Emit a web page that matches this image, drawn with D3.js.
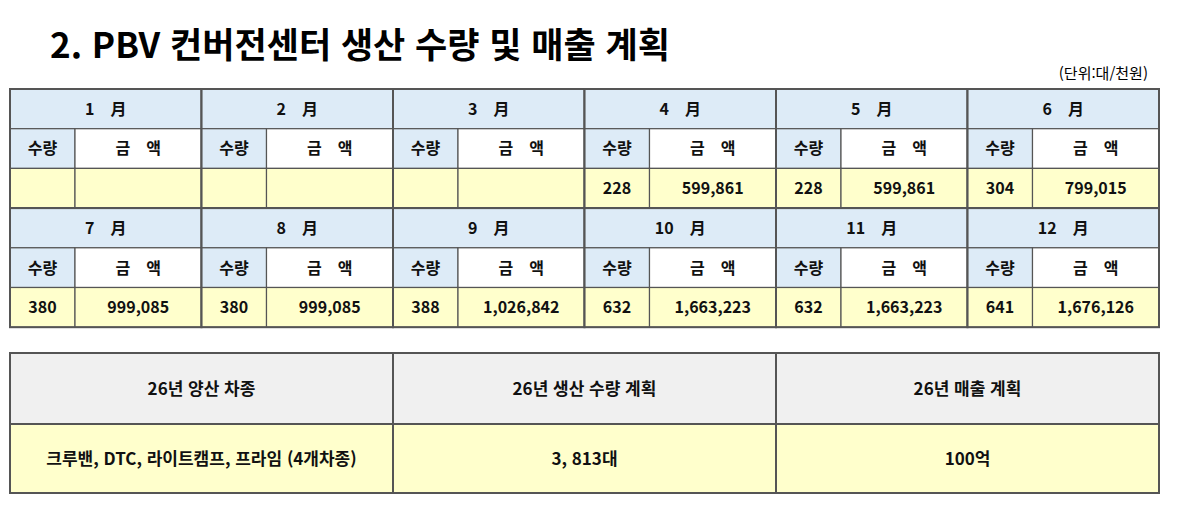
<!DOCTYPE html>
<html lang="ko">
<head>
<meta charset="UTF-8">
<title>PBV 컨버전센터</title>
<script src="https://cdnjs.cloudflare.com/ajax/libs/d3/7.8.5/d3.min.js"></script>
<style>
  body { margin: 0; background: #fff; }
  text { font-family: "Noto Sans CJK KR", sans-serif; }
</style>
</head>
<body>
<svg id="chart" width="1179" height="526"></svg>
<script>
const months = ['1', '2', '3', '4', '5', '6', '7', '8', '9', '10', '11', '12'];
const qty = [null, null, null, 228, 228, 304, 380, 380, 388, 632, 632, 641];
const amount = [null, null, null, 599861, 599861, 799015, 999085, 999085, 1026842, 1663223, 1663223, 1676126];
const summaryHeads = ['26년 양산 차종', '26년 생산 수량 계획', '26년 매출 계획'];
const summaryVals = ['크루밴, DTC, 라이트캠프, 프라임 (4개차종)', '3, 813대', '100억'];

const svg = d3.select('#chart');
const blue = '#ddebf7', yellow = '#ffffcc', gray = '#f0f0f0', line = '#555';

svg.append('text').attr('x', 50).attr('y', 58)
  .attr('font-size', 35).attr('font-weight', 700).text('2. PBV 컨버전센터 생산 수량 및 매출 계획');
svg.append('text').attr('x', 1148).attr('y', 79).attr('text-anchor', 'end')
  .attr('font-size', 15).text('(단위:대/천원)');

const x = d3.scaleBand().domain(d3.range(6)).range([10, 1159]);
const rowH = 39.7;
const qtyW = 65;
const fmt = d3.format(',');

function cell(x0, y0, w, h, fill, label, sw, fs) {
  svg.append('rect').attr('x', x0).attr('y', y0).attr('width', w).attr('height', h)
    .attr('fill', fill).attr('stroke', line).attr('stroke-width', sw || 1.2);
  if (label !== '') {
    const size = fs || 16;
    svg.append('text').attr('x', x0 + w / 2).attr('y', y0 + h / 2 + size * 0.37)
      .attr('text-anchor', 'middle').attr('font-size', size).attr('font-weight', 700)
      .attr('fill', '#111').text(label);
  }
}

[0, 1].forEach(block => {
  const top = 89 + block * rowH * 3;
  d3.range(6).forEach(j => {
    const i = block * 6 + j;
    const x0 = x(j), w = x.bandwidth();
    cell(x0, top, w, rowH, blue, months[i] + '　月');
    cell(x0, top + rowH, qtyW, rowH, blue, '수량');
    cell(x0 + qtyW, top + rowH, w - qtyW, rowH, '#fff', '금　액');
    cell(x0, top + 2 * rowH, qtyW, rowH, yellow, qty[i] == null ? '' : String(qty[i]));
    cell(x0 + qtyW, top + 2 * rowH, w - qtyW, rowH, yellow, amount[i] == null ? '' : fmt(amount[i]));
    svg.append('rect').attr('x', x0).attr('y', top).attr('width', w).attr('height', rowH * 3)
      .attr('fill', 'none').attr('stroke', line).attr('stroke-width', 2);
  });
});

const x2 = d3.scaleBand().domain(d3.range(3)).range([10, 1159]);
summaryHeads.forEach((h, i) => {
  cell(x2(i), 353, x2.bandwidth(), 71, gray, h, 2, 17);
  cell(x2(i), 424, x2.bandwidth(), 69, yellow, summaryVals[i], 2, 17);
});
</script>
</body>
</html>
